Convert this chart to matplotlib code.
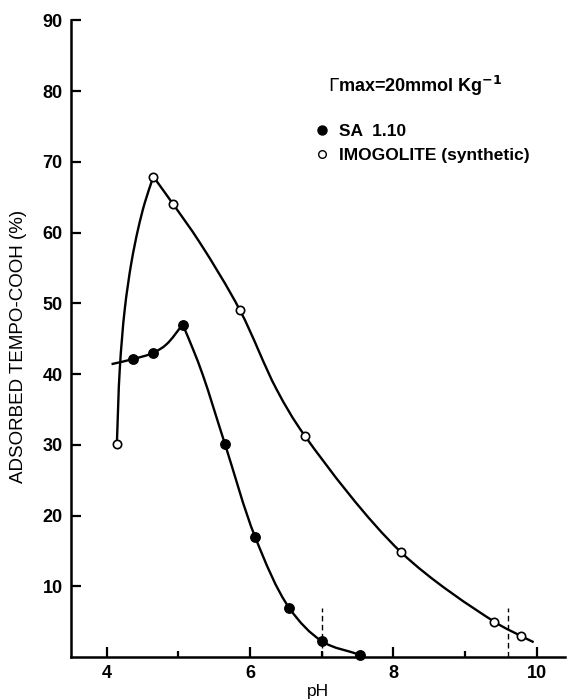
import numpy as np
import matplotlib
matplotlib.use("Agg")
import matplotlib.pyplot as plt
from matplotlib.path import Path
from matplotlib.patches import PathPatch
from matplotlib.lines import Line2D

plt.rcParams['font.family'] = ['Liberation Sans', 'DejaVu Sans']

# ---- data ----
sa_x = [4.36, 4.65, 5.06, 5.65, 6.07, 6.55, 7.01, 7.54]
sa_y = [42.1, 43.0, 47.0, 30.1, 17.0, 6.9, 2.2, 0.3]

imo_x = [4.14, 4.65, 4.92, 5.86, 6.77, 8.11, 9.41, 9.78]
imo_y = [30.1, 67.9, 64.1, 49.0, 31.2, 14.8, 5.0, 3.0]

# hand-drawn curve traces (rising and falling branches)
sa_rise_x = [4.066, 4.36, 4.65, 4.833, 5.06]
sa_rise_y = [41.4, 42.1, 43.0, 44.2, 47.0]
sa_fall_x = [5.06, 5.204, 5.343, 5.65, 6.07, 6.55, 7.01, 7.54]
sa_fall_y = [47.0, 43.5, 39.8, 30.1, 17.0, 6.9, 2.2, 0.3]
imo_rise_x = [4.14, 4.181, 4.251, 4.344, 4.437, 4.53, 4.65]
imo_rise_y = [30.1, 40.7, 49.2, 55.8, 60.5, 64.2, 67.9]
imo_fall_x = [4.65, 4.92, 5.297, 5.86, 6.367, 6.77, 8.11, 9.41, 9.78, 9.96]
imo_fall_y = [67.9, 64.1, 58.6, 49.0, 37.9, 31.2, 14.8, 5.0, 3.0, 2.1]

dash_x = [7.0, 9.6]
dash_top = 7.0

xticks_major = [4, 6, 8, 10]
xticks_minor = [5, 7, 9]
yticks = [10, 20, 30, 40, 50, 60, 70, 80, 90]

# approximate pixel scale per data unit (for chord lengths only)
SX, SY = 71.7, 7.09


def smooth_path(xs, ys, alpha=0.5):
    """Centripetal Catmull-Rom curve through the points, as a Bezier path."""
    p = np.column_stack([np.asarray(xs, float) * SX,
                         np.asarray(ys, float) * SY])
    ext = np.vstack([2 * p[0] - p[1], p, 2 * p[-1] - p[-2]])
    t = np.zeros(len(ext))
    for i in range(1, len(ext)):
        t[i] = t[i - 1] + np.linalg.norm(ext[i] - ext[i - 1]) ** alpha
    verts = [p[0]]
    codes = [Path.MOVETO]
    for k in range(1, len(ext) - 2):
        P0, P1, P2, P3 = ext[k - 1], ext[k], ext[k + 1], ext[k + 2]
        t0, t1, t2, t3 = t[k - 1], t[k], t[k + 1], t[k + 2]
        m1 = (P1 - P0) / (t1 - t0) - (P2 - P0) / (t2 - t0) + (P2 - P1) / (t2 - t1)
        m2 = (P2 - P1) / (t2 - t1) - (P3 - P1) / (t3 - t1) + (P3 - P2) / (t3 - t2)
        h = t2 - t1
        verts += [P1 + m1 * h / 3.0, P2 - m2 * h / 3.0, P2]
        codes += [Path.CURVE4] * 3
    v = np.array(verts)
    v[:, 0] /= SX
    v[:, 1] /= SY
    return Path(v, codes)


fig = plt.figure(figsize=(5.68, 6.99), dpi=100)
ax = fig.add_axes([0.125, 0.06, 0.87, 0.911])

for xs, ys in [(sa_rise_x, sa_rise_y), (sa_fall_x, sa_fall_y),
               (imo_rise_x, imo_rise_y), (imo_fall_x, imo_fall_y)]:
    ax.add_patch(PathPatch(smooth_path(xs, ys), facecolor='none',
                           edgecolor='black', lw=1.7, zorder=2,
                           clip_on=False))

ax.vlines(dash_x, 0, dash_top, colors='black', linestyles=(0, (4, 2.5)),
          lw=1.0, zorder=1)

ax.plot(sa_x, sa_y, 'o', color='black', ms=6.8, zorder=4, clip_on=False)
ax.plot(imo_x, imo_y, 'o', mfc='white', mec='black', mew=1.2, ms=6,
        zorder=4, clip_on=False)

ax.set_xlim(3.5, 10.4)
ax.set_ylim(0, 90)
ax.set_xticks(xticks_major)
ax.set_xticks(xticks_minor, minor=True)
ax.set_yticks(yticks)
ax.tick_params(axis='both', which='major', direction='in', length=7,
               width=1.6, labelsize=13, pad=6)
ax.tick_params(axis='x', which='minor', direction='in', length=4, width=1.6)
for lab in ax.get_xticklabels() + ax.get_yticklabels():
    lab.set_fontweight('bold')

for s in ['top', 'right']:
    ax.spines[s].set_visible(False)
for s in ['left', 'bottom']:
    ax.spines[s].set_linewidth(1.8)

ax.set_xlabel('pH', fontsize=12.5, labelpad=1)
ax.set_ylabel('ADSORBED TEMPO-COOH (%)', fontsize=13.5)
ax.yaxis.set_label_coords(-0.089, 0.4875)

ax.text(0.52, 0.897, r'$\mathit{\Gamma}$max=20mmol Kg$^{\mathbf{-1}}$',
        transform=ax.transAxes, fontsize=13, fontweight='bold',
        va='center', ha='left')

handles = [Line2D([], [], ls='none', marker='o', color='black', ms=6.5),
           Line2D([], [], ls='none', marker='o', mfc='white', mec='black',
                  mew=1.0, ms=5.5)]
ax.legend(handles, ['SA  1.10', 'IMOGOLITE (synthetic)'],
          loc='upper left', bbox_to_anchor=(0.494, 0.838), frameon=False,
          prop={'size': 12.5, 'weight': 'bold'}, handlelength=0.8,
          handletextpad=0.6, labelspacing=0.55, borderpad=0,
          borderaxespad=0)

fig.savefig('out.png', dpi=100)
